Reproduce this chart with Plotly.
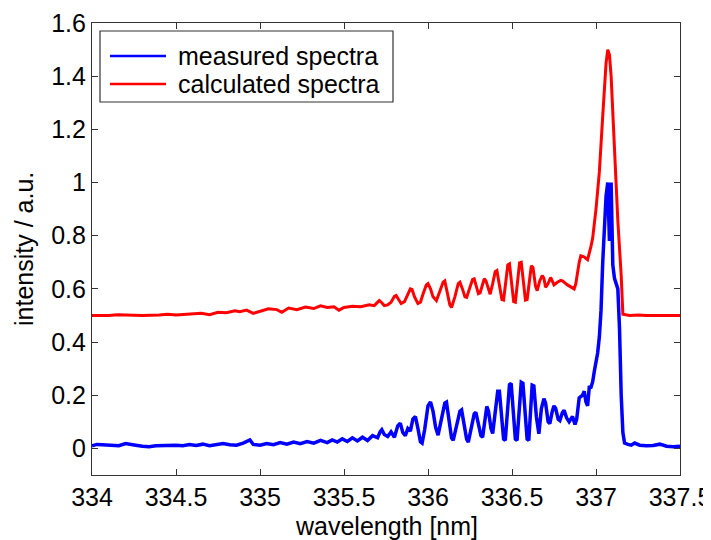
import plotly.graph_objects as go

# measured spectrum (blue)
meas_wl = [334.00, 334.03, 334.06, 334.10, 334.13, 334.16, 334.20, 334.23, 334.26, 334.30,
           334.34, 334.38, 334.42, 334.46, 334.50, 334.54, 334.58, 334.62, 334.66, 334.70,
           334.74, 334.78, 334.82, 334.86, 334.90, 334.94, 334.96, 335.00, 335.04, 335.08,
           335.12, 335.16, 335.20, 335.24, 335.28, 335.32, 335.36, 335.40, 335.43, 335.46,
           335.49, 335.52, 335.55, 335.58, 335.61, 335.64, 335.67, 335.70, 335.715, 335.725,
           335.74, 335.76, 335.78, 335.80, 335.82, 335.835, 335.85, 335.865, 335.88, 335.895,
           335.91, 335.925, 335.94, 335.955, 335.965, 335.98, 336.00, 336.015, 336.03, 336.045,
           336.06, 336.08, 336.10, 336.11, 336.125, 336.14, 336.15, 336.17, 336.19, 336.20,
           336.215, 336.23, 336.24, 336.26, 336.275, 336.285, 336.30, 336.315, 336.325, 336.34,
           336.35, 336.36, 336.375, 336.385, 336.40, 336.415, 336.425, 336.44, 336.45, 336.46,
           336.475, 336.485, 336.495, 336.51, 336.52, 336.53, 336.545, 336.555, 336.565, 336.58,
           336.59, 336.60, 336.61, 336.62, 336.63, 336.645, 336.66, 336.675, 336.69, 336.70,
           336.715, 336.725, 336.74, 336.75, 336.76, 336.775, 336.785, 336.80, 336.81, 336.825,
           336.84, 336.86, 336.875, 336.885, 336.90, 336.92, 336.93, 336.94, 336.95, 336.96,
           336.97, 336.98, 336.99, 337.00, 337.01, 337.02, 337.03, 337.04, 337.05, 337.06,
           337.07, 337.08, 337.09, 337.10, 337.11, 337.12, 337.13, 337.14, 337.145, 337.15,
           337.16, 337.17, 337.19, 337.21, 337.23, 337.26, 337.30, 337.34, 337.38, 337.42,
           337.46, 337.50]
meas_val = [0.010, 0.015, 0.014, 0.012, 0.013, 0.010, 0.018, 0.016, 0.012, 0.008,
            0.006, 0.010, 0.011, 0.009, 0.012, 0.010, 0.015, 0.011, 0.016, 0.010,
            0.013, 0.018, 0.014, 0.012, 0.020, 0.032, 0.015, 0.012, 0.018, 0.014,
            0.022, 0.016, 0.024, 0.018, 0.026, 0.020, 0.030, 0.022, 0.032, 0.024,
            0.036, 0.026, 0.040, 0.028, 0.042, 0.030, 0.048, 0.040, 0.062, 0.070,
            0.052, 0.045, 0.062, 0.042, 0.085, 0.095, 0.060, 0.048, 0.075, 0.065,
            0.110, 0.120, 0.075, 0.025, 0.020, 0.070, 0.160, 0.175, 0.140, 0.080,
            0.050, 0.110, 0.170, 0.174, 0.110, 0.040, 0.030, 0.090, 0.140, 0.145,
            0.090, 0.035, 0.024, 0.080, 0.130, 0.136, 0.090, 0.048, 0.042, 0.120,
            0.158, 0.140, 0.075, 0.056, 0.150, 0.215, 0.215, 0.100, 0.035, 0.030,
            0.150, 0.240, 0.245, 0.110, 0.035, 0.030, 0.160, 0.249, 0.245, 0.110,
            0.035, 0.030, 0.150, 0.238, 0.235, 0.120, 0.055, 0.150, 0.187, 0.170,
            0.100, 0.093, 0.140, 0.160, 0.150, 0.110, 0.105, 0.135, 0.143, 0.115,
            0.100, 0.120, 0.090, 0.110, 0.190, 0.200, 0.215, 0.175, 0.160, 0.230,
            0.230, 0.250, 0.290, 0.320, 0.360, 0.420, 0.520, 0.700, 0.820, 0.950,
            1.000, 0.780, 1.000, 0.690, 0.640, 0.620, 0.600, 0.450, 0.290, 0.200,
            0.060, 0.020, 0.015, 0.012, 0.020, 0.012, 0.010, 0.011, 0.016, 0.008,
            0.006, 0.008]

# calculated spectrum (red)
calc_wl = [334.00, 334.10, 334.15, 334.20, 334.30, 334.40, 334.45, 334.50, 334.60, 334.65,
           334.70, 334.75, 334.80, 334.85, 334.88, 334.92, 334.96, 335.00, 335.05, 335.10,
           335.13, 335.17, 335.22, 335.27, 335.32, 335.36, 335.40, 335.44, 335.47, 335.50,
           335.55, 335.60, 335.65, 335.68, 335.70, 335.71, 335.725, 335.74, 335.76, 335.78,
           335.80, 335.81, 335.825, 335.84, 335.86, 335.88, 335.895, 335.905, 335.92, 335.94,
           335.955, 335.97, 335.99, 336.00, 336.015, 336.03, 336.05, 336.07, 336.09, 336.10,
           336.115, 336.13, 336.14, 336.16, 336.18, 336.19, 336.205, 336.22, 336.23, 336.25,
           336.265, 336.275, 336.29, 336.30, 336.31, 336.325, 336.335, 336.345, 336.36, 336.37,
           336.385, 336.40, 336.41, 336.425, 336.44, 336.45, 336.465, 336.475, 336.485, 336.50,
           336.51, 336.52, 336.535, 336.545, 336.555, 336.57, 336.58, 336.59, 336.605, 336.615,
           336.625, 336.64, 336.65, 336.665, 336.68, 336.69, 336.70, 336.715, 336.73, 336.74,
           336.75, 336.77, 336.79, 336.80, 336.83, 336.87, 336.88, 336.90, 336.91, 336.93,
           336.95, 336.97, 336.98, 337.00, 337.02, 337.04, 337.05, 337.06, 337.07, 337.08,
           337.09, 337.10, 337.12, 337.13, 337.15, 337.16, 337.20, 337.25, 337.30, 337.40,
           337.50]
calc_val = [0.500, 0.500, 0.503, 0.502, 0.500, 0.502, 0.505, 0.502, 0.505, 0.508,
            0.503, 0.512, 0.510, 0.518, 0.514, 0.520, 0.508, 0.516, 0.525, 0.522,
            0.512, 0.528, 0.522, 0.532, 0.526, 0.536, 0.530, 0.533, 0.520, 0.530,
            0.535, 0.533, 0.540, 0.537, 0.550, 0.556, 0.548, 0.537, 0.540, 0.550,
            0.572, 0.575, 0.560, 0.545, 0.552, 0.580, 0.600, 0.598, 0.570, 0.545,
            0.550, 0.580, 0.615, 0.620, 0.600, 0.570, 0.556, 0.590, 0.625, 0.630,
            0.590, 0.540, 0.530, 0.570, 0.620, 0.625, 0.600, 0.570, 0.568, 0.610,
            0.635, 0.638, 0.605, 0.582, 0.585, 0.620, 0.638, 0.630, 0.595, 0.580,
            0.620, 0.665, 0.669, 0.620, 0.560, 0.558, 0.640, 0.690, 0.694, 0.620,
            0.552, 0.550, 0.650, 0.698, 0.700, 0.620, 0.558, 0.560, 0.650, 0.687,
            0.680, 0.610, 0.593, 0.630, 0.650, 0.640, 0.606, 0.620, 0.643, 0.630,
            0.615, 0.625, 0.632, 0.630, 0.615, 0.600, 0.620, 0.700, 0.725, 0.720,
            0.710, 0.760, 0.790, 0.900, 1.040, 1.250, 1.357, 1.450, 1.500, 1.480,
            1.400, 1.260, 1.000, 0.856, 0.650, 0.505, 0.500, 0.502, 0.500, 0.500,
            0.500]

x_ticks = [334, 334.5, 335, 335.5, 336, 336.5, 337, 337.5]
y_ticks = [0, 0.2, 0.4, 0.6, 0.8, 1, 1.2, 1.4, 1.6]
series_names = ["measured spectra", "calculated spectra"]
series_colors = ["#0000FF", "#FF0000"]

FONT = "Liberation Sans, Arial, sans-serif"
FS = 25

# the page body has an 8 px default margin; positions below are window pixels
OFF = 8
W, H = 711 - OFF, 540 - OFF
L, R, T, B = 92 - OFF, 680 - OFF, 23 - OFF, 475 - OFF


def px(x):
    return (x - OFF - L) / (R - L)


def py(y):
    return (B - (y - OFF)) / (B - T)


fig = go.Figure()
fig.add_trace(go.Scatter(x=meas_wl, y=meas_val, mode="lines", name=series_names[0],
                         line=dict(color=series_colors[0], width=3.5)))
fig.add_trace(go.Scatter(x=calc_wl, y=calc_val, mode="lines", name=series_names[1],
                         line=dict(color=series_colors[1], width=3)))

axis_common = dict(showgrid=False, zeroline=False, showline=True, linecolor="#333333",
                   linewidth=1.2, mirror="ticks", ticks="inside", ticklen=6,
                   tickcolor="#333333", automargin=False, ticklabeloverflow="allow",
                   tickfont=dict(family=FONT, size=FS, color="black"))

# manual legend (box, line samples, labels)
shapes = [dict(type="rect", xref="paper", yref="paper",
               x0=px(100), x1=px(393), y0=py(102), y1=py(31),
               line=dict(color="#333333", width=1.2), fillcolor="white", layer="above")]
annotations = []
for i, (nm, col) in enumerate(zip(series_names, series_colors)):
    yy = 56 + 28 * i
    shapes.append(dict(type="line", xref="paper", yref="paper",
                       x0=px(110), x1=px(166), y0=py(yy), y1=py(yy),
                       line=dict(color=col, width=2.5), layer="above"))
    annotations.append(dict(text=nm, xref="paper", yref="paper", x=px(176), y=py(yy),
                            xanchor="left", yanchor="middle", showarrow=False,
                            font=dict(family=FONT, size=FS, color="black")))

annotations.append(dict(text="wavelength [nm]", xref="paper", yref="paper",
                        x=px(386), y=py(526), xanchor="center", yanchor="middle",
                        showarrow=False, font=dict(family=FONT, size=FS, color="black")))
annotations.append(dict(text="intensity / a.u.", xref="paper", yref="paper",
                        x=px(24), y=py(249), xanchor="center", yanchor="middle",
                        textangle=-90, showarrow=False,
                        font=dict(family=FONT, size=FS, color="black")))

fig.update_layout(
    width=W, height=H,
    margin=dict(l=L, r=W - R, t=T, b=H - B),
    paper_bgcolor="white", plot_bgcolor="white",
    font=dict(family=FONT, size=FS, color="black"),
    xaxis=dict(range=[334, 337.5], tickvals=x_ticks,
               ticktext=[str(v) for v in x_ticks], **axis_common),
    yaxis=dict(range=[-0.1, 1.6], tickvals=y_ticks,
               ticktext=[("%g" % v) for v in y_ticks], **axis_common),
    shapes=shapes,
    annotations=annotations,
    showlegend=False,
)

fig.write_html("out.html")
